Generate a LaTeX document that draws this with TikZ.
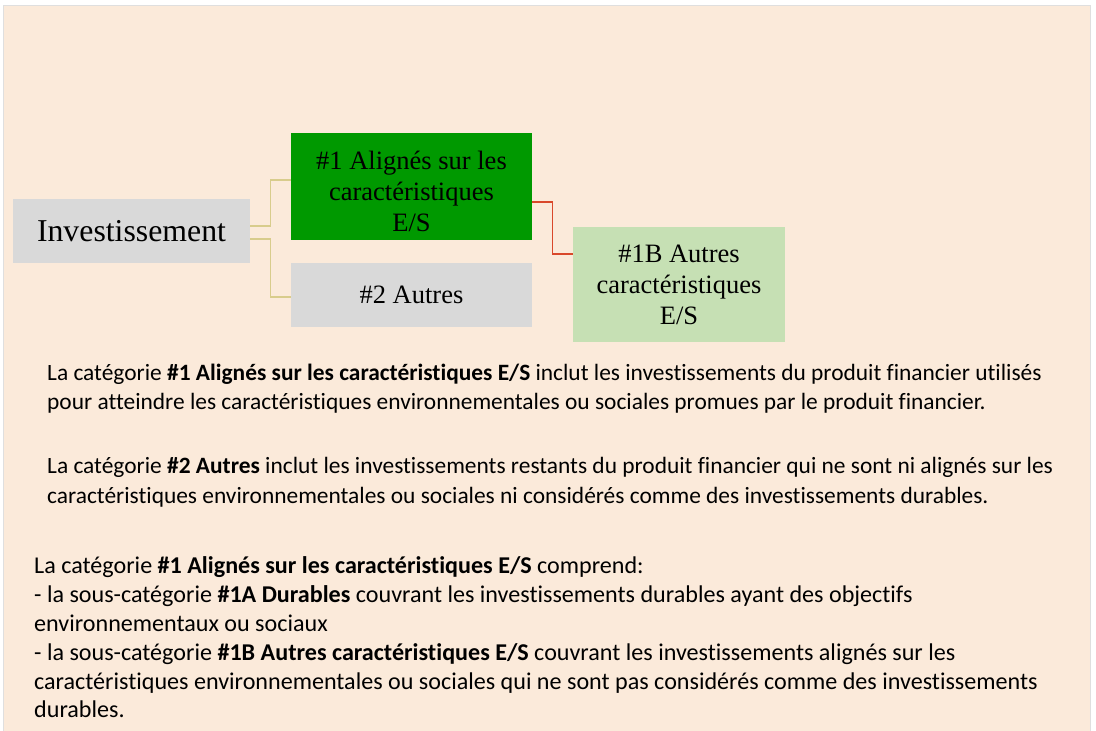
\documentclass[tikz,border=0pt]{standalone}
\usepackage{fontspec}
\setmainfont[Ligatures={NoCommon}]{Carlito}
\newfontfamily\boxfont{Liberation Serif}
\usetikzlibrary{calc}
\definecolor{peach}{HTML}{FBEADA}
\definecolor{boxgray}{HTML}{D9D9D9}
\definecolor{darkgreen}{HTML}{009900}
\definecolor{lightgreen}{HTML}{C6E0B4}
\definecolor{tanline}{HTML}{D8CC8C}
\definecolor{redline}{HTML}{D9482B}
\begin{document}
\begin{tikzpicture}[x=1pt,y=1pt,
  boxnode/.style={rectangle,inner sep=0pt,font=\boxfont},
  txt/.style={anchor=base west,inner sep=0pt,font=\fontsize{23.4}{28}\selectfont},
  txtb/.style={anchor=base west,inner sep=0pt,font=\fontsize{24.1}{29}\selectfont},
  tanconn/.style={draw=tanline,line width=1.3pt},
  redconn/.style={draw=redline,line width=1.3pt}]
\useasboundingbox (0,0) rectangle (1096,731);
\fill[white] (0,0) rectangle (1096,731);
\draw[fill=peach,draw=gray!25,line width=0.6pt] (3,0) rectangle (1090,726);
% boxes
\node[boxnode,fill=boxgray,minimum width=237pt,minimum height=64pt,
  font=\boxfont\fontsize{31.8}{36}\selectfont] (inv) at (131.5,500) {Investissement};
\node[boxnode,fill=darkgreen,minimum width=241pt,minimum height=107pt] (g1) at (411.5,544.5) {};
\node[boxnode,align=center,font=\boxfont\fontsize{26.5}{31}\selectfont] (g1t) at (411.5,540)
  {\#1 Alignés sur les\\caractéristiques\\E/S};
\node[boxnode,fill=boxgray,minimum width=241pt,minimum height=64pt,
  font=\boxfont\fontsize{26.5}{31}\selectfont] (g2) at (411.5,436) {\#2 Autres};
\node[boxnode,fill=lightgreen,minimum width=212pt,minimum height=115pt,align=center,
  font=\boxfont\fontsize{26.5}{31}\selectfont] (g1b) at (679,446.5)
  {\#1B Autres\\caractéristiques\\E/S};
% connectors
\draw[tanconn] ([yshift=5pt]inv.east) -- ++(20,0) |- ([yshift=6.5pt]g1.west);
\draw[tanconn] ([yshift=-8pt]inv.east) -- ++(20,0) |- ([yshift=-2pt]g2.west);
\draw[redconn] ([yshift=-15.5pt]g1.east) -- ++(20,0) |- ([yshift=30.5pt]g1b.west);
% paragraphs
\node[txt] (p1a) at (47,350) {La catégorie \textbf{\#1 Alignés sur les caractéristiques E/S} inclut les investissements du produit financier utilisés};
\node[txt] (p1b) at (47,321) {pour atteindre les caractéristiques environnementales ou sociales promues par le produit financier.};
\node[txt] (p2a) at (47,257) {La catégorie \textbf{\#2 Autres} inclut les investissements restants du produit financier qui ne sont ni alignés sur les};
\node[txt] (p2b) at (47,227) {caractéristiques environnementales ou sociales ni considérés comme des investissements durables.};
\node[txtb] (p3a) at (34,157) {La catégorie \textbf{\#1 Alignés sur les caractéristiques E/S} comprend:};
\node[txtb] (p3b) at (34,128) {- la sous-catégorie \textbf{\#1A Durables} couvrant les investissements durables ayant des objectifs};
\node[txtb] (p3c) at (34,99) {environnementaux ou sociaux};
\node[txtb] (p3d) at (34,70) {- la sous-catégorie \textbf{\#1B Autres caractéristiques E/S} couvrant les investissements alignés sur les};
\node[txtb] (p3e) at (34,41) {caractéristiques environnementales ou sociales qui ne sont pas considérés comme des investissements};
\node[txtb] (p3f) at (34,13) {durables.};
\end{tikzpicture}
\end{document}
